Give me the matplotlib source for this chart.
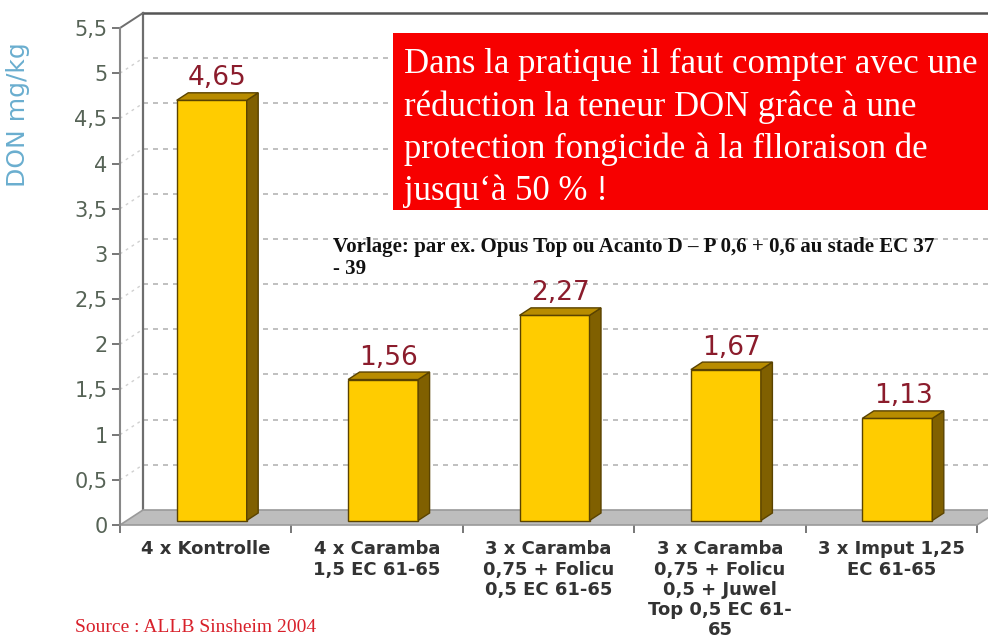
#!/usr/bin/env python3
"""
DON-Gehalt (mg/kg) nach Fungizidbehandlung - 3D-Säulendiagramm nachgebaut
"""

import matplotlib
matplotlib.use('Agg')
import matplotlib.pyplot as plt
from matplotlib.patches import Polygon, Rectangle
import numpy as np

# 数据
categories = [
    "4 x Kontrolle",
    "4 x Caramba\n1,5 EC 61-65",
    "3 x Caramba\n0,75 + Folicu\n0,5 EC 61-65",
    "3 x Caramba\n0,75 + Folicu\n0,5 + Juwel\nTop 0,5 EC 61-\n65",
    "3 x Imput 1,25\nEC 61-65",
]
don_values = [4.65, 1.56, 2.27, 1.67, 1.13]
y_ticks = [0, 0.5, 1, 1.5, 2, 2.5, 3, 3.5, 4, 4.5, 5, 5.5]
y_tick_labels = ["0", "0,5", "1", "1,5", "2", "2,5", "3", "3,5", "4", "4,5", "5", "5,5"]

ylabel_text = "DON mg/kg"
note_text = ("Dans la pratique il faut compter avec une\n"
             "réduction la teneur DON grâce à une\n"
             "protection fongicide à la flloraison de\n"
             "jusqu\u2018à 50 % !")
vorlage_text = "Vorlage: par ex. Opus Top ou Acanto D \u2013 P 0,6 + 0,6 au stade EC 37\n- 39"
source_text = "Source : ALLB Sinsheim 2004"

# 颜色
FRONT = '#ffcc00'
SIDE = '#806000'
TOP = '#b88c00'
EDGE = '#5a4300'
FLOOR = '#bdbdbd'
WALL_LINE = '#6e6e6e'


def main():
    fig = plt.figure(figsize=(9.88, 6.4), dpi=100)
    W, H = 988, 640
    # 前平面: x 120..977 px, y 525 (0) .. 28 (5.5)
    ax = fig.add_axes([120 / W, (H - 525) / H, (977 - 120) / W, (525 - 28) / H])
    n = len(don_values)
    x = np.arange(n)
    ax.set_xlim(-0.5, n - 0.5)
    ax.set_ylim(0, 5.5)

    # 像素 -> 数据单位
    px_x = (977 - 120) / n
    px_y = (525 - 28) / 5.5
    DX, DY = 23 / px_x, 15 / px_y          # 墙的深度
    BX, BY = 6 / px_x, 4.5 / px_y          # 柱子前面偏移
    BDX, BDY = 11.5 / px_x, 7.5 / px_y     # 柱子深度
    x0, x1 = -0.5, n - 0.5

    # 后墙网格线
    for t in y_ticks[1:-1]:
        ax.plot([x0 + DX, x1 + DX + 0.2], [t + DY, t + DY], color='#b5b5b5',
                linestyle=(0, (3, 3)), linewidth=1.2, clip_on=False, zorder=1)
        # 左侧墙斜线
        ax.plot([x0, x0 + DX], [t, t + DY], color='#d0d0d0',
                linestyle=(0, (2, 3)), linewidth=1, clip_on=False, zorder=1)

    # 后墙边框
    ax.plot([x0 + DX, x0 + DX], [DY, 5.5 + DY], color=WALL_LINE, linewidth=1.6,
            clip_on=False, zorder=2)
    ax.plot([x0 + DX, x1 + DX + 0.2], [5.5 + DY, 5.5 + DY], color='#555555',
            linewidth=1.8, clip_on=False, zorder=2)
    ax.plot([x0, x0 + DX], [5.5, 5.5 + DY], color=WALL_LINE, linewidth=1.4,
            clip_on=False, zorder=2)

    # 地板
    floor = Polygon([[x0, 0], [x1, 0], [x1 + DX, DY], [x0 + DX, DY]],
                    closed=True, facecolor=FLOOR, edgecolor='#9a9a9a',
                    linewidth=1.2, clip_on=False, zorder=2)
    ax.add_patch(floor)

    # 柱子
    w = 70 / px_x
    xc = x + BX
    ax.bar(xc, don_values, width=w, bottom=BY, color=FRONT, edgecolor=EDGE,
           linewidth=1, zorder=4, clip_on=False)
    for xi, v in zip(xc, don_values):
        top = BY + v
        side = Polygon([[xi + w / 2, BY], [xi + w / 2 + BDX, BY + BDY],
                        [xi + w / 2 + BDX, top + BDY], [xi + w / 2, top]],
                       closed=True, facecolor=SIDE, edgecolor=EDGE, linewidth=1,
                       zorder=4, clip_on=False)
        lid = Polygon([[xi - w / 2, top], [xi + w / 2, top],
                       [xi + w / 2 + BDX, top + BDY], [xi - w / 2 + BDX, top + BDY]],
                      closed=True, facecolor=TOP, edgecolor=EDGE, linewidth=1,
                      zorder=4, clip_on=False)
        ax.add_patch(side)
        ax.add_patch(lid)
        ax.annotate(f"{v:.2f}".replace('.', ','), (xi + BDX / 2, top),
                    xytext=(0, 22), textcoords='offset pixels',
                    ha='center', va='center', fontsize=19, color='#8b1c2c',
                    zorder=6)

    # 坐标轴
    for s in ['top', 'right', 'bottom']:
        ax.spines[s].set_visible(False)
    ax.spines['left'].set_color('#888888')
    ax.spines['left'].set_linewidth(1.5)
    ax.set_yticks(y_ticks)
    ax.set_yticklabels(y_tick_labels)
    ax.tick_params(axis='y', direction='out', length=6, width=1.4,
                   color='#777777', labelcolor='#566356', labelsize=15, pad=3)
    ax.set_xticks(x)
    ax.set_xticklabels(categories)
    ax.set_xticks(np.arange(n + 1) - 0.5, minor=True)
    ax.tick_params(axis='x', which='major', length=0, pad=11,
                   labelsize=13, labelcolor='#333333')
    ax.tick_params(axis='x', which='minor', direction='out', length=6,
                   width=1.4, color='#777777')
    for lab in ax.get_xticklabels():
        lab.set_fontweight('bold')
        lab.set_linespacing(1.16)
    ax.patch.set_alpha(0)

    # 文本
    fig.text(18 / W, 1 - 115 / H, ylabel_text, rotation=90, ha='center',
             va='center', fontsize=18, color='#6aaecf')

    fig.patches.append(Rectangle((393 / W, 1 - 210 / H), 1 - 393 / W + 0.01,
                                 177 / H, transform=fig.transFigure,
                                 facecolor='#f70000', edgecolor='none', zorder=5))
    fig.text(404 / W, 1 - 48 / H, note_text, ha='left', va='top',
             fontsize=25, color='white', family='Liberation Serif',
             linespacing=1.35, zorder=6)

    fig.text(333 / W, 1 - 237 / H, vorlage_text, ha='left', va='top',
             fontsize=15, fontweight='bold', color='#111111',
             family='Liberation Serif', linespacing=1.15)

    fig.text(75 / W, 1 - 627 / H, source_text, ha='left', va='center',
             fontsize=14, color='#d8202a', family='Liberation Serif')

    fig.savefig('out.png', dpi=100)
    plt.close(fig)


if __name__ == "__main__":
    main()
